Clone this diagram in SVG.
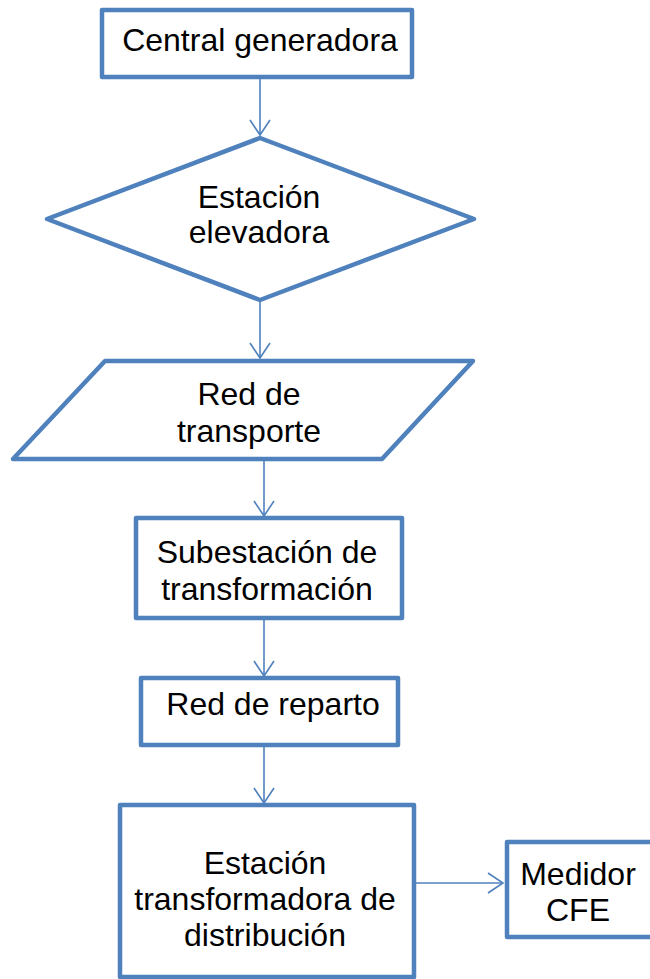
<svg xmlns="http://www.w3.org/2000/svg" width="650" height="979" viewBox="0 0 650 979">
<style>
.shape{fill:#fff;stroke:#4F81BD;stroke-width:4.5;stroke-linejoin:round}
.lbl{font-family:"Liberation Sans",Arial,sans-serif;font-size:32px;fill:#000;text-anchor:middle}
.conn{stroke:#4F81BD;stroke-width:1.6;fill:none}
</style>
<defs>
<marker id="arr" markerUnits="userSpaceOnUse" markerWidth="24" markerHeight="24" viewBox="-16 -12 18 24" refX="0" refY="0" orient="auto">
<path d="M-15,-10 L0,0 L-15,10" fill="none" stroke="#4F81BD" stroke-width="1.6"/>
</marker>
</defs>
<rect width="650" height="979" fill="#fff"/>
<g id="connectors">
<line class="conn" x1="260" y1="78" x2="260" y2="135" marker-end="url(#arr)"/>
<line class="conn" x1="260" y1="300" x2="260" y2="358" marker-end="url(#arr)"/>
<line class="conn" x1="264" y1="461" x2="264" y2="516" marker-end="url(#arr)"/>
<line class="conn" x1="264" y1="620" x2="264" y2="676" marker-end="url(#arr)"/>
<line class="conn" x1="264" y1="747" x2="264" y2="803" marker-end="url(#arr)"/>
<line class="conn" x1="405" y1="883" x2="503" y2="883" marker-end="url(#arr)"/>
</g>
<g id="central">
<rect class="shape" x="102" y="10" width="310" height="67"/>
<text class="lbl" x="260" y="51">Central generadora</text>
</g>
<g id="elevadora">
<polygon class="shape" points="260,138 474,219 260,300 47,219"/>
<text class="lbl" x="259" y="208">Estación</text>
<text class="lbl" x="259" y="243">elevadora</text>
</g>
<g id="transporte">
<polygon class="shape" points="105,361 473,361 382,459 13,459"/>
<text class="lbl" x="249" y="405">Red de</text>
<text class="lbl" x="249" y="442">transporte</text>
</g>
<g id="subestacion">
<rect class="shape" x="136" y="518" width="266" height="100"/>
<text class="lbl" x="267" y="563">Subestación de</text>
<text class="lbl" x="267" y="600">transformación</text>
</g>
<g id="reparto">
<rect class="shape" x="141" y="678" width="257" height="67"/>
<text class="lbl" x="273" y="715">Red de reparto</text>
</g>
<g id="distribucion">
<rect class="shape" x="120" y="805" width="294" height="172"/>
<text class="lbl" x="265" y="874">Estación</text>
<text class="lbl" x="265" y="910">transformadora de</text>
<text class="lbl" x="265" y="946">distribución</text>
</g>
<g id="medidor">
<rect class="shape" x="507" y="842" width="160" height="95"/>
<text class="lbl" x="578" y="885">Medidor</text>
<text class="lbl" x="578" y="921">CFE</text>
</g>
</svg>
